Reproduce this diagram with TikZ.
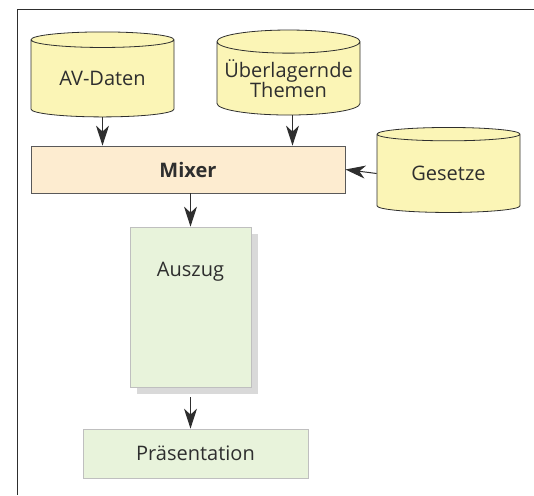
\documentclass[tikz,border=0pt]{standalone}
\usepackage{fontspec}
\setmainfont{Open Sans}
\usepackage{tikz}
\usetikzlibrary{shapes.geometric, arrows.meta, shadows}

\definecolor{dbyellow}{HTML}{FBF5B6}
\definecolor{mixpeach}{HTML}{FDECD0}
\definecolor{docgreen}{HTML}{E8F3DB}
\definecolor{inkgray}{HTML}{2E2E2E}

\begin{document}
\begin{tikzpicture}[x=1pt, y=-1pt,
    font=\fontsize{20}{23}\selectfont, text=inkgray,
    store/.style={shape=cylinder, shape border rotate=90, aspect=0.18,
        draw=inkgray, line width=0.8pt, fill=dbyellow,
        minimum width=143pt, minimum height=85pt, inner sep=0pt, align=center},
    doc/.style={draw=black!25, line width=0.8pt, fill=docgreen, inner sep=0pt},
    flow/.style={draw=inkgray, line width=1pt, -{Stealth[length=20pt, width=13pt, inset=6pt]}}]
            \useasboundingbox (0,0) rectangle (534,495);
            \draw[inkgray, line width=1pt] (534,10) -- (17,10) -- (17,495);

            \node[store] (av) at (102.5, 78.5) {AV-Daten};
            \node[store] (themen) at (288.5, 78.5) {Überlagernde\\[-3pt]Themen};
            \node[store] (gesetze) at (448.5, 173.5) {Gesetze};

            \node[draw=black!65, line width=0.8pt, fill=mixpeach, minimum width=314pt,
                minimum height=47pt, inner sep=0pt, font=\fontsize{20}{23}\selectfont\bfseries]
                (mixer) at (188, 169.5) {Mixer};

            \node[doc, minimum width=121pt, minimum height=160pt,
                drop shadow={shadow xshift=7pt, shadow yshift=-7pt, fill=black!15, opacity=1},
                label={[anchor=center, yshift=-45pt]north:Auszug}] (auszug) at (190.5, 307) {};
            \node[doc, minimum width=225pt, minimum height=49pt] (praes) at (195.5, 453.5) {Präsentation};

            \draw[flow] (av.south) -- (av.south |- mixer.north);
            \draw[flow] ([xshift=4pt]themen.south) -- ([xshift=4pt]themen.south |- mixer.north);
            \draw[flow] (gesetze.west) -- (mixer.east);
            \draw[flow] (auszug.north |- mixer.south) -- (auszug.north);
            \draw[flow, shorten <=10pt] (auszug.south) -- (auszug.south |- praes.north);

        \end{tikzpicture}
\end{document}
